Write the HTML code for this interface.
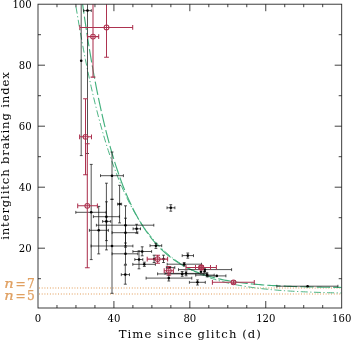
<!DOCTYPE html>
<html lang="en"><head><meta charset="utf-8"><title>Interglitch braking index</title>
<style>html,body{margin:0;padding:0;background:#fff;}body{width:351px;height:341px;overflow:hidden;}svg{display:block;will-change:transform;}.tl{font-family:"DejaVu Serif Condensed","DejaVu Serif","Liberation Serif",serif;font-stretch:condensed;font-size:11.2px;fill:#000;}.ax{font-family:"DejaVu Serif","Liberation Serif",serif;font-size:11.6px;fill:#000;}.nl{font-family:"DejaVu Serif","Liberation Serif",serif;font-size:12.2px;fill:#e0a062;stroke:#e0a062;stroke-width:0.25px;}</style></head><body>
<svg width="351" height="341" viewBox="0 0 351 341">
<rect x="0" y="0" width="351" height="341" fill="#fff"/>
<defs><clipPath id="c"><rect x="38.0" y="4.2" width="303.7" height="303.8"/></clipPath></defs>
<g stroke="#e9b582" stroke-width="1.5" stroke-dasharray="0.9 1.83" fill="none">
<line x1="39.0" y1="288.0" x2="341.7" y2="288.0"/>
<line x1="39.0" y1="293.9" x2="341.7" y2="293.9"/>
</g>
<g clip-path="url(#c)" fill="none" stroke="#43b07d">
<path d="M66.47 -58.51 L68.37 -44.41 L70.27 -30.88 L72.16 -17.89 L74.06 -5.42 L75.96 6.56 L77.86 18.05 L79.76 29.08 L81.65 39.68 L83.55 49.85 L85.45 59.61 L87.35 68.98 L89.25 77.98 L91.14 86.62 L93.04 94.91 L94.94 102.87 L96.84 110.51 L98.74 117.85 L100.63 124.89 L102.53 131.65 L104.43 138.14 L106.33 144.38 L108.23 150.36 L110.12 156.10 L112.02 161.61 L113.92 166.91 L115.82 171.99 L117.72 176.87 L119.61 181.55 L121.51 186.04 L123.41 190.36 L125.31 194.50 L127.21 198.48 L129.10 202.30 L131.00 205.96 L132.90 209.48 L134.80 212.86 L136.70 216.10 L138.59 219.22 L140.49 222.21 L142.39 225.08 L144.29 227.83 L146.19 230.47 L148.08 233.01 L149.98 235.45 L151.88 237.79 L153.78 240.04 L155.68 242.19 L157.57 244.26 L159.47 246.25 L161.37 248.16 L163.27 249.99 L165.17 251.75 L167.06 253.44 L168.96 255.06 L170.86 256.61 L172.76 258.10 L174.66 259.54 L176.55 260.91 L178.45 262.24 L180.35 263.50 L182.25 264.72 L184.15 265.89 L186.04 267.01 L187.94 268.09 L189.84 269.12 L191.74 270.12 L193.64 271.07 L195.53 271.99 L197.43 272.86 L199.33 273.71 L201.23 274.52 L203.13 275.29 L205.02 276.04 L206.92 276.76 L208.82 277.44 L210.72 278.10 L212.62 278.74 L214.51 279.35 L216.41 279.93 L218.31 280.49 L220.21 281.03 L222.11 281.55 L224.00 282.04 L225.90 282.52 L227.80 282.98 L229.70 283.41 L231.60 283.84 L233.49 284.24 L235.39 284.63 L237.29 285.00 L239.19 285.36 L241.09 285.70 L242.98 286.03 L244.88 286.35 L246.78 286.65 L248.68 286.95 L250.58 287.23 L252.47 287.49 L254.37 287.75 L256.27 288.00 L258.17 288.24 L260.07 288.47 L261.96 288.69 L263.86 288.90 L265.76 289.10 L267.66 289.29 L269.56 289.48 L271.45 289.66 L273.35 289.83 L275.25 289.99 L277.15 290.15 L279.05 290.30 L280.94 290.45 L282.84 290.59 L284.74 290.72 L286.64 290.85 L288.54 290.98 L290.43 291.10 L292.33 291.21 L294.23 291.32 L296.13 291.43 L298.03 291.53 L299.92 291.62 L301.82 291.72 L303.72 291.81 L305.62 291.89 L307.52 291.97 L309.41 292.05 L311.31 292.13 L313.21 292.20 L315.11 292.27 L317.01 292.34 L318.90 292.40 L320.80 292.46 L322.70 292.52 L324.60 292.58 L326.50 292.64 L328.39 292.69 L330.29 292.74 L332.19 292.79 L334.09 292.83 L335.99 292.88 L337.88 292.92 L339.78 292.96 L341.68 293.00" stroke-width="0.95" stroke-dasharray="7 2.5 1.2 2.5"/>
<path d="M72.16 -81.65 L74.06 -64.31 L75.96 -47.78 L77.86 -32.03 L79.76 -17.01 L81.65 -2.70 L83.55 10.94 L85.45 23.94 L87.35 36.32 L89.25 48.13 L91.14 59.38 L93.04 70.11 L94.94 80.33 L96.84 90.07 L98.74 99.35 L100.63 108.20 L102.53 116.63 L104.43 124.67 L106.33 132.33 L108.23 139.63 L110.12 146.59 L112.02 153.22 L113.92 159.54 L115.82 165.56 L117.72 171.30 L119.61 176.77 L121.51 181.99 L123.41 186.95 L125.31 191.69 L127.21 196.20 L129.10 200.51 L131.00 204.61 L132.90 208.51 L134.80 212.24 L136.70 215.79 L138.59 219.17 L140.49 222.39 L142.39 225.47 L144.29 228.39 L146.19 231.18 L148.08 233.84 L149.98 236.38 L151.88 238.80 L153.78 241.10 L155.68 243.29 L157.57 245.38 L159.47 247.38 L161.37 249.28 L163.27 251.09 L165.17 252.81 L167.06 254.46 L168.96 256.03 L170.86 257.52 L172.76 258.94 L174.66 260.30 L176.55 261.59 L178.45 262.83 L180.35 264.00 L182.25 265.12 L184.15 266.19 L186.04 267.20 L187.94 268.17 L189.84 269.10 L191.74 269.98 L193.64 270.82 L195.53 271.62 L197.43 272.38 L199.33 273.10 L201.23 273.80 L203.13 274.46 L205.02 275.08 L206.92 275.68 L208.82 276.25 L210.72 276.80 L212.62 277.32 L214.51 277.81 L216.41 278.28 L218.31 278.73 L220.21 279.16 L222.11 279.57 L224.00 279.96 L225.90 280.33 L227.80 280.68 L229.70 281.02 L231.60 281.34 L233.49 281.64 L235.39 281.93 L237.29 282.21 L239.19 282.48 L241.09 282.73 L242.98 282.97 L244.88 283.20 L246.78 283.42 L248.68 283.63 L250.58 283.82 L252.47 284.01 L254.37 284.19 L256.27 284.36 L258.17 284.53 L260.07 284.68 L261.96 284.83 L263.86 284.97 L265.76 285.11 L267.66 285.24 L269.56 285.36 L271.45 285.48 L273.35 285.59 L275.25 285.69 L277.15 285.80 L279.05 285.89 L280.94 285.98 L282.84 286.07 L284.74 286.16 L286.64 286.23 L288.54 286.31 L290.43 286.38 L292.33 286.45 L294.23 286.52 L296.13 286.58 L298.03 286.64 L299.92 286.70 L301.82 286.75 L303.72 286.80 L305.62 286.85 L307.52 286.90 L309.41 286.94 L311.31 286.99 L313.21 287.03 L315.11 287.06 L317.01 287.10 L318.90 287.14 L320.80 287.17 L322.70 287.20 L324.60 287.23 L326.50 287.26 L328.39 287.29 L330.29 287.32 L332.19 287.34 L334.09 287.36 L335.99 287.39 L337.88 287.41 L339.78 287.43 L341.68 287.45" stroke-width="1.15" stroke-dasharray="13.5 3"/>
</g>
<g clip-path="url(#c)">
<g fill="none" stroke="#111" stroke-width="0.72"><path d="M81.2 -40.0V155.6 M79.8 -40.0H82.7 M79.8 155.6H82.7"/><path d="M83.7 10.6H91.3 M83.7 9.2V12.0 M91.3 9.2V12.0"/><path d="M87.5 -140.0V153.5 M86.0 -140.0H89.0 M86.0 153.5H89.0"/><path d="M75.8 212.3H106.1 M75.8 210.9V213.8 M106.1 210.9V213.8"/><path d="M91.2 164.4V259.6 M89.8 164.4H92.7 M89.8 259.6H92.7"/><path d="M93.4 216.7H119.4 M93.4 215.2V218.1 M119.4 215.2V218.1"/><path d="M106.4 183.2V249.9 M105.0 183.2H107.9 M105.0 249.9H107.9"/><path d="M102.6 221.4H110.7 M102.6 220.0V222.8 M110.7 220.0V222.8"/><path d="M106.4 201.8V240.6 M105.0 201.8H107.9 M105.0 240.6H107.9"/><path d="M89.4 230.3H108.4 M89.4 228.9V231.8 M108.4 228.9V231.8"/><path d="M98.7 206.4V253.9 M97.2 206.4H100.2 M97.2 253.9H100.2"/><path d="M96.4 225.2H153.8 M96.4 223.8V226.6 M153.8 223.8V226.6"/><path d="M125.5 205.8V245.8 M124.0 205.8H127.0 M124.0 245.8H127.0"/><path d="M112.1 232.7H137.8 M112.1 231.2V234.1 M137.8 231.2V234.1"/><path d="M125.5 218.2V247.2 M124.0 218.2H127.0 M124.0 247.2H127.0"/><path d="M112.1 253.8H137.8 M112.1 252.4V255.2 M137.8 252.4V255.2"/><path d="M125.5 243.0V264.3 M124.0 243.0H127.0 M124.0 264.3H127.0"/><path d="M121.3 274.6H129.5 M121.3 273.2V276.1 M129.5 273.2V276.1"/><path d="M125.3 265.2V284.2 M123.8 265.2H126.8 M123.8 284.2H126.8"/><path d="M91.1 246.0H132.9 M91.1 244.6V247.4 M132.9 244.6V247.4"/><path d="M112.0 199.2V293.3 M110.5 199.2H113.5 M110.5 293.3H113.5"/><path d="M100.5 175.7H123.4 M100.5 174.2V177.1 M123.4 174.2V177.1"/><path d="M112.0 152.0V199.4 M110.5 152.0H113.5 M110.5 199.4H113.5"/><path d="M117.6 204.1H121.6 M117.6 202.7V205.5 M121.6 202.7V205.5"/><path d="M119.6 185.3V222.9 M118.1 185.3H121.0 M118.1 222.9H121.0"/><path d="M133.1 228.8H140.5 M133.1 227.4V230.2 M140.5 227.4V230.2"/><path d="M136.6 224.3V233.2 M135.2 224.3H138.0 M135.2 233.2H138.0"/><path d="M132.9 251.5H151.6 M132.9 250.1V252.9 M151.6 250.1V252.9"/><path d="M142.2 246.8V255.8 M140.8 246.8H143.6 M140.8 255.8H143.6"/><path d="M134.8 259.5H142.8 M134.8 258.1V260.9 M142.8 258.1V260.9"/><path d="M139.0 250.8V268.8 M137.6 250.8H140.4 M137.6 268.8H140.4"/><path d="M132.8 264.3H155.4 M132.8 262.9V265.8 M155.4 262.9V265.8"/><path d="M144.3 262.2V266.4 M142.9 262.2H145.8 M142.9 266.4H145.8"/><path d="M150.0 245.7H161.7 M150.0 244.2V247.1 M161.7 244.2V247.1"/><path d="M155.9 243.3V248.4 M154.5 243.3H157.3 M154.5 248.4H157.3"/><path d="M167.0 207.8H174.9 M167.0 206.4V209.2 M174.9 206.4V209.2"/><path d="M170.8 204.7V211.2 M169.4 204.7H172.2 M169.4 211.2H172.2"/><path d="M182.2 255.6H193.5 M182.2 254.2V257.1 M193.5 254.2V257.1"/><path d="M187.8 253.0V258.2 M186.4 253.0H189.2 M186.4 258.2H189.2"/><path d="M167.2 264.2H201.5 M167.2 262.8V265.6 M201.5 262.8V265.6"/><path d="M184.2 262.5V266.0 M182.8 262.5H185.6 M182.8 266.0H185.6"/><path d="M189.4 282.3H205.3 M189.4 280.9V283.8 M205.3 280.9V283.8"/><path d="M197.5 279.9V285.0 M196.1 279.9H198.9 M196.1 285.0H198.9"/><path d="M154.1 255.2V262.5 M152.7 255.2H155.5 M152.7 262.5H155.5"/><path d="M163.5 255.2V262.5 M162.1 255.2H164.9 M162.1 262.5H164.9"/><path d="M166.4 267.6H174.8 M166.4 266.2V269.1 M174.8 266.2V269.1"/><path d="M146.1 278.1H191.8 M146.1 276.7V279.6 M191.8 276.7V279.6"/><path d="M168.8 275.3V281.0 M167.4 275.3H170.2 M167.4 281.0H170.2"/><path d="M157.6 273.9H204.0 M157.6 272.4V275.3 M204.0 272.4V275.3"/><path d="M182.2 271.5V276.3 M180.8 271.5H183.6 M180.8 276.3H183.6"/><path d="M165.0 273.4H207.0 M165.0 271.9V274.8 M207.0 271.9V274.8"/><path d="M186.1 271.0V275.8 M184.7 271.0H187.5 M184.7 275.8H187.5"/><path d="M178.5 269.6H231.6 M178.5 268.2V271.1 M231.6 268.2V271.1"/><path d="M195.7 275.1H214.2 M195.7 273.7V276.6 M214.2 273.7V276.6"/><path d="M207.1 273.0V276.8 M205.7 273.0H208.5 M205.7 276.8H208.5"/><path d="M208.0 275.9H225.9 M208.0 274.4V277.3 M225.9 274.4V277.3"/><path d="M276.8 286.2H337.9 M276.8 284.8V287.6 M337.9 284.8V287.6"/></g>
<g fill="#000"><circle cx="81.2" cy="60.7" r="1.3"/><circle cx="87.5" cy="10.6" r="1.3"/><circle cx="91.2" cy="212.3" r="1.3"/><circle cx="106.4" cy="216.7" r="1.3"/><circle cx="106.4" cy="221.4" r="1.3"/><circle cx="98.7" cy="230.3" r="1.3"/><circle cx="125.5" cy="225.2" r="1.3"/><circle cx="125.5" cy="232.7" r="1.3"/><circle cx="125.5" cy="253.8" r="1.3"/><circle cx="125.3" cy="274.6" r="1.3"/><circle cx="112.0" cy="246.0" r="1.3"/><circle cx="112.0" cy="175.7" r="1.3"/><circle cx="119.6" cy="204.1" r="1.3"/><circle cx="136.6" cy="228.8" r="1.3"/><circle cx="142.2" cy="251.5" r="1.3"/><circle cx="139.0" cy="259.5" r="1.3"/><circle cx="144.3" cy="264.3" r="1.3"/><circle cx="155.9" cy="245.7" r="1.3"/><circle cx="170.8" cy="207.8" r="1.3"/><circle cx="187.8" cy="255.6" r="1.3"/><circle cx="184.2" cy="264.2" r="1.3"/><circle cx="197.5" cy="282.3" r="1.3"/><circle cx="154.1" cy="259.1" r="1.3"/><circle cx="163.5" cy="259.1" r="1.3"/><circle cx="169.3" cy="267.6" r="1.3"/><circle cx="168.8" cy="278.1" r="1.3"/><circle cx="182.2" cy="273.9" r="1.3"/><circle cx="186.1" cy="273.4" r="1.3"/><circle cx="204.9" cy="269.6" r="1.3"/><circle cx="207.1" cy="275.1" r="1.3"/><circle cx="216.8" cy="275.9" r="1.3"/><circle cx="201.0" cy="271.7" r="1.3"/><circle cx="204.6" cy="271.5" r="1.3"/><circle cx="307.6" cy="286.2" r="1.3"/></g>
<g fill="none" stroke="#ad3350" stroke-width="1.05"><path d="M79.8 27.4H132.7 M79.8 25.0V29.8 M132.7 25.0V29.8"/><path d="M106.5 -3.0V57.2 M104.1 -3.0H108.9 M104.1 57.2H108.9"/><path d="M87.6 36.6H98.7 M87.6 34.2V39.0 M98.7 34.2V39.0"/><path d="M93.0 -4.0V77.1 M90.6 -4.0H95.4 M90.6 77.1H95.4"/><path d="M79.6 136.8H91.5 M79.6 134.4V139.2 M91.5 134.4V139.2"/><path d="M85.5 98.7V174.8 M83.1 98.7H87.9 M83.1 174.8H87.9"/><path d="M77.7 205.8H97.4 M77.7 203.4V208.2 M97.4 203.4V208.2"/><path d="M87.3 143.8V267.8 M84.9 143.8H89.7 M84.9 267.8H89.7"/><path d="M147.2 259.1H167.6 M147.2 256.7V261.5 M167.6 256.7V261.5"/><path d="M157.6 255.3V263.2 M155.2 255.3H160.0 M155.2 263.2H160.0"/><path d="M164.2 270.7H173.4 M164.2 268.3V273.1 M173.4 268.3V273.1"/><path d="M168.8 266.4V275.0 M166.4 266.4H171.2 M166.4 275.0H171.2"/><path d="M186.0 267.4H216.4 M186.0 265.0V269.8 M216.4 265.0V269.8"/><path d="M201.3 265.5V269.3 M198.9 265.5H203.7 M198.9 269.3H203.7"/><path d="M212.4 282.3H254.3 M212.4 279.9V284.7 M254.3 279.9V284.7"/><path d="M233.5 280.8V283.8 M231.1 280.8H235.9 M231.1 283.8H235.9"/><path d="M210.5 265V269.8M195.5 265V269.8"/><circle cx="106.5" cy="27.4" r="2.4"/><circle cx="93.0" cy="36.6" r="2.4"/><circle cx="85.5" cy="136.8" r="2.4"/><circle cx="87.3" cy="205.8" r="2.4"/><circle cx="157.6" cy="259.1" r="2.4"/><circle cx="168.8" cy="270.7" r="2.4"/><circle cx="201.3" cy="267.4" r="2.4"/><circle cx="233.5" cy="282.3" r="2.4"/><circle cx="201.2" cy="267.4" r="2.5" fill="#ad3350" fill-opacity="0.75"/></g>
</g>
<rect x="38.0" y="4.2" width="303.7" height="303.8" fill="none" stroke="#222" stroke-width="0.88"/>
<path d="M56.98 308.0v-3 M56.98 4.2v3 M75.96 308.0v-3 M75.96 4.2v3 M94.94 308.0v-3 M94.94 4.2v3 M113.92 308.0v-7 M113.92 4.2v7 M132.90 308.0v-3 M132.90 4.2v3 M151.88 308.0v-3 M151.88 4.2v3 M170.86 308.0v-3 M170.86 4.2v3 M189.84 308.0v-7 M189.84 4.2v7 M208.82 308.0v-3 M208.82 4.2v3 M227.80 308.0v-3 M227.80 4.2v3 M246.78 308.0v-3 M246.78 4.2v3 M265.76 308.0v-7 M265.76 4.2v7 M284.74 308.0v-3 M284.74 4.2v3 M303.72 308.0v-3 M303.72 4.2v3 M322.70 308.0v-3 M322.70 4.2v3 M38.0 278.70h3 M341.7 278.70h-3 M38.0 248.20h7 M341.7 248.20h-7 M38.0 217.70h3 M341.7 217.70h-3 M38.0 187.20h7 M341.7 187.20h-7 M38.0 156.70h3 M341.7 156.70h-3 M38.0 126.20h7 M341.7 126.20h-7 M38.0 95.70h3 M341.7 95.70h-3 M38.0 65.20h7 M341.7 65.20h-7 M38.0 34.70h3 M341.7 34.70h-3" fill="none" stroke="#111" stroke-width="0.8"/>
<text class="tl" x="38.0" y="321.5" text-anchor="middle">0</text>
<text class="tl" x="113.9" y="321.5" text-anchor="middle">40</text>
<text class="tl" x="189.8" y="321.5" text-anchor="middle">80</text>
<text class="tl" x="265.8" y="321.5" text-anchor="middle">120</text>
<text class="tl" x="341.7" y="321.5" text-anchor="middle">160</text>
<text class="tl" x="31.6" y="252.4" text-anchor="end">20</text>
<text class="tl" x="31.6" y="191.4" text-anchor="end">40</text>
<text class="tl" x="31.6" y="130.4" text-anchor="end">60</text>
<text class="tl" x="31.6" y="69.4" text-anchor="end">80</text>
<text class="tl" x="31.6" y="8.4" text-anchor="end">100</text>
<text class="ax" x="190.3" y="338.1" text-anchor="middle" letter-spacing="1.06" word-spacing="0">Time since glitch (d)</text>
<text class="ax" transform="translate(8.8 155.6) rotate(-90)" text-anchor="middle" letter-spacing="0.875" word-spacing="0">interglitch braking index</text>
<text class="nl" font-style="italic" transform="translate(4.2 288.0) scale(1.2 1)">n</text>
<text class="nl" y="288.0"><tspan x="15.6">=</tspan><tspan x="27.0">7</tspan></text>
<text class="nl" font-style="italic" transform="translate(4.2 300.4) scale(1.2 1)">n</text>
<text class="nl" y="300.4"><tspan x="15.6">=</tspan><tspan x="27.0">5</tspan></text>
</svg></body></html>
